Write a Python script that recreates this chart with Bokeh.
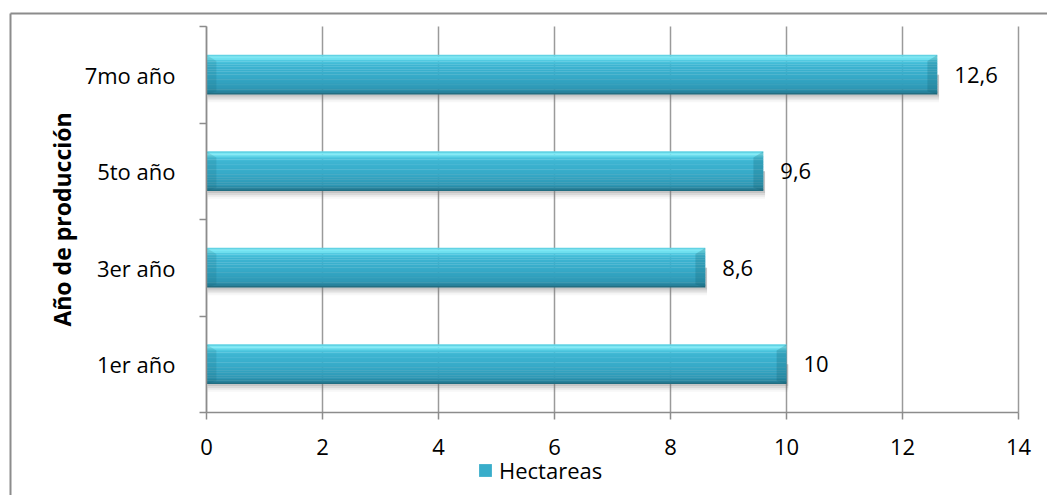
from bokeh.plotting import figure
from bokeh.models import FixedTicker, Legend, LegendItem, ColumnDataSource, Range1d
from bokeh.core.properties import value
from bokeh.embed import file_html
from bokeh.resources import INLINE

# Data: planted area per production year
categories = ["1er año", "3er año", "5to año", "7mo año"]
hectareas = [10, 8.6, 9.6, 12.6]
x_ticks = [0, 2, 4, 6, 8, 10, 12, 14]
series_name = "Hectareas"
axis_title = "Año de producción"

FONT = "Open Sans"
FS = "22px"
GRAY = "#8c8c8c"
GRID = "#9a9a9a"

W, HT = 1047, 495
# pixel box of the plotting area inside the canvas
PX_L, PX_R, PX_T, PX_B = 206, 1018, 26, 412
XMAX = x_ticks[-1]
NCAT = len(categories)
SX = (PX_R - PX_L) / XMAX
SY = (PX_B - PX_T) / NCAT

pos = [i + 0.5 for i in range(NCAT)]
labels = [f"{v:g}".replace(".", ",") for v in hectareas]

# the frame fills the whole canvas; axes are pinned at the data origin
x_range = Range1d(-PX_L / SX, XMAX + (W - PX_R) / SX)
y_range = Range1d(-(HT - PX_B) / SY, NCAT + PX_T / SY)
p = figure(width=W, height=HT, x_range=x_range, y_range=y_range,
           output_backend="svg", toolbar_location=None, min_border=0)
p.outline_line_color = None
p.background_fill_color = "white"
p.border_fill_color = "white"
p.xgrid.visible = False
p.ygrid.visible = False

# chart-area border (top and left edges; the rest lies beyond the canvas)
bx = x_range.start + 10 / SX
by = y_range.end - 13 / SY
p.segment(x0=[bx, bx], y0=[by, by], x1=[x_range.end, bx], y1=[by, y_range.start],
          line_color=GRAY, line_width=2)

# vertical grid lines across the plotting area
p.segment(x0=x_ticks, y0=[0] * len(x_ticks), x1=x_ticks, y1=[NCAT] * len(x_ticks),
          line_color=GRID, line_width=1.5)

# x axis
xa = p.xaxis[0]
xa.fixed_location = 0
xa.bounds = (0, XMAX)
xa.ticker = FixedTicker(ticks=x_ticks)
xa.axis_line_color = GRAY
xa.axis_line_width = 1.5
xa.major_tick_line_color = GRAY
xa.major_tick_line_width = 1.5
xa.major_tick_out = 7
xa.major_tick_in = 0
xa.minor_tick_line_color = None
xa.major_label_text_font = FONT
xa.major_label_text_font_size = FS
xa.major_label_text_color = "black"
xa.major_label_standoff = 19

# y axis: labels at category centres, ticks at category boundaries
ya = p.yaxis[0]
ya.fixed_location = 0
ya.bounds = (0, NCAT)
ya.ticker = FixedTicker(ticks=pos, minor_ticks=list(range(NCAT + 1)))
ya.major_label_overrides = {v: c for v, c in zip(pos, categories)}
ya.axis_line_color = GRAY
ya.axis_line_width = 1.5
ya.major_tick_line_color = None
ya.major_tick_out = 0
ya.major_tick_in = 0
ya.minor_tick_line_color = GRAY
ya.minor_tick_line_width = 1.5
ya.minor_tick_out = 7
ya.minor_tick_in = 0
ya.major_label_text_font = FONT
ya.major_label_text_font_size = FS
ya.major_label_text_color = "black"
ya.major_label_standoff = 24
ya.axis_label = axis_title
ya.axis_label_text_font = FONT
ya.axis_label_text_font_size = "23px"
ya.axis_label_text_font_style = "bold"
ya.axis_label_text_color = "black"
ya.axis_label_standoff = 4

H = 0.41  # bar thickness in category units

# soft drop shadow under each bar
for d, a in [(0.08, 0.06), (0.06, 0.1), (0.04, 0.14), (0.02, 0.2)]:
    src = ColumnDataSource(dict(
        left=[0.02] * len(hectareas),
        right=[v + 0.03 for v in hectareas],
        bottom=[y - H / 2 - d for y in pos],
        top=[y for y in pos]))
    p.quad(left="left", right="right", bottom="bottom", top="top", source=src,
           fill_color="#7a7a7a", fill_alpha=a, line_color=None)

# bar body as thin horizontal strips forming a vertical gradient
stops = [
    (0.00, (0x1f, 0x64, 0x75)),
    (0.06, (0x27, 0x80, 0x9a)),
    (0.15, (0x2e, 0x98, 0xb5)),
    (0.45, (0x36, 0xaa, 0xc8)),
    (0.75, (0x3d, 0xb5, 0xd2)),
    (0.85, (0x4f, 0xc8, 0xe0)),
    (0.92, (0x7e, 0xea, 0xf6)),
    (0.97, (0x72, 0xe2, 0xf1)),
    (1.00, (0x3f, 0xb0, 0xc8)),
]


def shade(f):
    for (f0, c0), (f1, c1) in zip(stops[:-1], stops[1:]):
        if f0 <= f <= f1:
            t = (f - f0) / (f1 - f0) if f1 > f0 else 0
            r, g, b = (round(a + (b_ - a) * t) for a, b_ in zip(c0, c1))
            return f"#{r:02x}{g:02x}{b:02x}"
    return "#36aac8"


N = 24
body = None
for k in range(N):
    f0, f1 = k / N, (k + 1) / N
    src = ColumnDataSource(dict(
        left=[0] * len(hectareas),
        right=hectareas,
        bottom=[y - H / 2 + f0 * H for y in pos],
        top=[y - H / 2 + f1 * H + 0.003 for y in pos]))
    r = p.quad(left="left", right="right", bottom="bottom", top="top", source=src,
               fill_color=shade((f0 + f1) / 2), line_color=None)
    if k == N // 2:
        body = r

# bevelled ends
B = 0.17
lx, ly, rx, ry = [], [], [], []
for v, y in zip(hectareas, pos):
    b, t = y - H / 2, y + H / 2
    lx.append([0, 0, B, B]); ly.append([b, t, t - 0.15 * H, b + 0.08 * H])
    rx.append([v, v, v - B, v - B]); ry.append([b, t, t - 0.15 * H, b + 0.08 * H])
p.patches(xs=lx, ys=ly, fill_color="#0f5566", fill_alpha=0.15, line_color=None)
p.patches(xs=rx, ys=ry, fill_color="#0f5566", fill_alpha=0.22, line_color=None)

# value labels
p.text(x=hectareas, y=pos, text=labels, x_offset=17, text_align="left", text_baseline="middle",
       text_font=value(FONT), text_font_size=FS, text_color="black")

legend = Legend(items=[LegendItem(label=series_name, renderers=[body])],
                location=(477, 10), orientation="horizontal",
                border_line_color=None, background_fill_alpha=0,
                glyph_width=16, glyph_height=16, label_standoff=6,
                label_text_font=FONT, label_text_font_size=FS, label_text_color="black",
                padding=0, margin=0)
p.add_layout(legend, "center")

open("out.html", "w").write(file_html(p, INLINE))
